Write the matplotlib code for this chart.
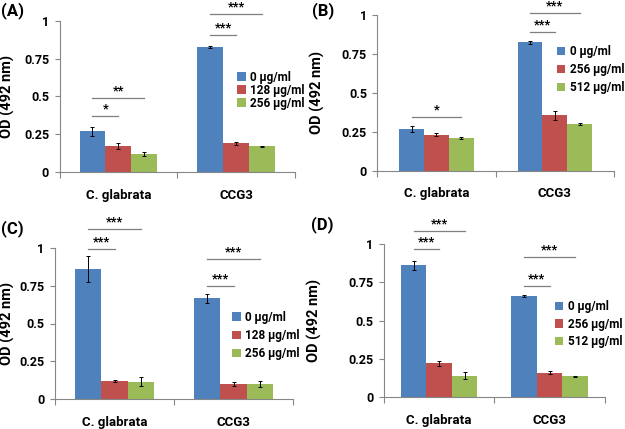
import matplotlib
matplotlib.use("Agg")
import matplotlib.pyplot as plt
import numpy as np

plt.rcParams['font.family'] = ['Roboto', 'DejaVu Sans']
plt.rcParams['font.weight'] = 'bold'

categories = ["C. glabrata", "CCG3"]
colors = ["#4F81BD", "#C0504D", "#9BBB59"]

# panel A
a_labels = ["0 µg/ml", "128 µg/ml", "256 µg/ml"]
a_means = [[0.27, 0.825], [0.17, 0.19], [0.12, 0.17]]
a_errs = [[0.03, 0.005], [0.02, 0.01], [0.015, 0.003]]
a_sig = [(0, 1, 0.37, "*"), (0, 2, 0.49, "**"), (1, 1, 0.907, "***"), (1, 2, 1.044, "***")]

# panel B
b_labels = ["0 µg/ml", "256 µg/ml", "512 µg/ml"]
b_means = [[0.27, 0.825], [0.23, 0.355], [0.21, 0.30]]
b_errs = [[0.02, 0.01], [0.01, 0.03], [0.004, 0.006]]
b_sig = [(0, 2, 0.347, "*"), (1, 1, 0.889, "***"), (1, 2, 1.015, "***")]

# panel C
c_labels = ["0 µg/ml", "128 µg/ml", "256 µg/ml"]
c_means = [[0.86, 0.665], [0.12, 0.10], [0.115, 0.10]]
c_errs = [[0.085, 0.03], [0.008, 0.015], [0.03, 0.02]]
c_sig = [(0, 1, 0.989, "***"), (0, 2, 1.123, "***"), (1, 1, 0.747, "***"), (1, 2, 0.927, "***")]

# panel D
d_labels = ["0 µg/ml", "256 µg/ml", "512 µg/ml"]
d_means = [[0.86, 0.66], [0.22, 0.16], [0.14, 0.135]]
d_errs = [[0.03, 0.005], [0.015, 0.01], [0.025, 0.003]]
d_sig = [(0, 1, 0.965, "***"), (0, 2, 1.087, "***"), (1, 1, 0.727, "***"), (1, 2, 0.917, "***")]

W, H = 625, 429
fig = plt.figure(figsize=(W / 100, H / 100), dpi=100)


def px_axes(left, right, top, bottom):
    return fig.add_axes([left / W, 1 - bottom / H, (right - left) / W, (bottom - top) / H])


def draw_panel(ax, means, errs, labels, sig, leg_xy, leg_space, ylab_x, width=0.22):
    x = np.arange(len(categories))
    for i in range(3):
        ax.bar(x + (i - 1) * width, means[i], width, color=colors[i], label=labels[i],
               yerr=errs[i], error_kw=dict(ecolor="black", elinewidth=0.7, capsize=1.5, capthick=0.7))
    for cat, j, y, txt in sig:
        x0 = cat - width
        x1 = cat + (j - 1) * width
        ax.plot([x0, x1], [y, y], color="#7f7f7f", lw=0.9, clip_on=False)
        ax.text((x0 + x1) / 2, y + 0.004, txt, ha="center", va="bottom", fontsize=9,
                fontweight="bold", clip_on=False)
    ax.set_xlim(-0.5, 1.5)
    ax.set_ylim(0, 1)
    ax.set_yticks([0, 0.25, 0.5, 0.75, 1])
    ax.set_yticklabels(["0", "0.25", "0.5", "0.75", "1"])
    ax.set_xticks([-0.5, 0.5, 1.5])
    ax.set_xticklabels([])
    ax.set_xticks(x, minor=True)
    ax.set_xticklabels(categories, minor=True)
    ax.tick_params(axis="x", which="minor", length=0, pad=12, labelsize=9.5)
    ax.tick_params(axis="x", which="major", length=4, color="#868686")
    ax.tick_params(axis="y", length=3.5, color="#868686", pad=4, labelsize=9)
    for s in ["top", "right"]:
        ax.spines[s].set_visible(False)
    for s in ["left", "bottom"]:
        ax.spines[s].set_color("#868686")
        ax.spines[s].set_linewidth(0.8)
    ax.set_ylabel("OD (492 nm)", fontsize=10.5, fontweight="bold")
    ax.yaxis.set_label_coords(ylab_x, 0.5)
    ax.legend(loc="upper left", bbox_to_anchor=leg_xy, frameon=False, fontsize=8.5,
              handlelength=0.7, handleheight=0.7, handletextpad=0.4,
              labelspacing=leg_space, borderaxespad=0, borderpad=0)


ax_a = px_axes(59.5, 295, 20.7, 172)
draw_panel(ax_a, a_means, a_errs, a_labels, a_sig, (0.755, 0.67), 0.0, -0.19)
ax_b = px_axes(377.3, 614, 15, 170.7)
draw_panel(ax_b, b_means, b_errs, b_labels, b_sig, (0.76, 0.805), 0.4, -0.22, width=0.21)
ax_c = px_axes(55, 293, 247.7, 399.3)
draw_panel(ax_c, c_means, c_errs, c_labels, c_sig, (0.745, 0.585), 0.45, -0.17)
ax_d = px_axes(384, 604.7, 244, 397)
draw_panel(ax_d, d_means, d_errs, d_labels, d_sig, (0.775, 0.635), 0.4, -0.28, width=0.23)

for lab, px, py in [("(A)", 1, 11), ("(B)", 312, 11), ("(C)", 1, 229), ("(D)", 311, 225)]:
    fig.text(px / W, 1 - py / H, lab, fontsize=12, fontweight="bold", ha="left", va="center")

fig.savefig("out.png", dpi=100)
